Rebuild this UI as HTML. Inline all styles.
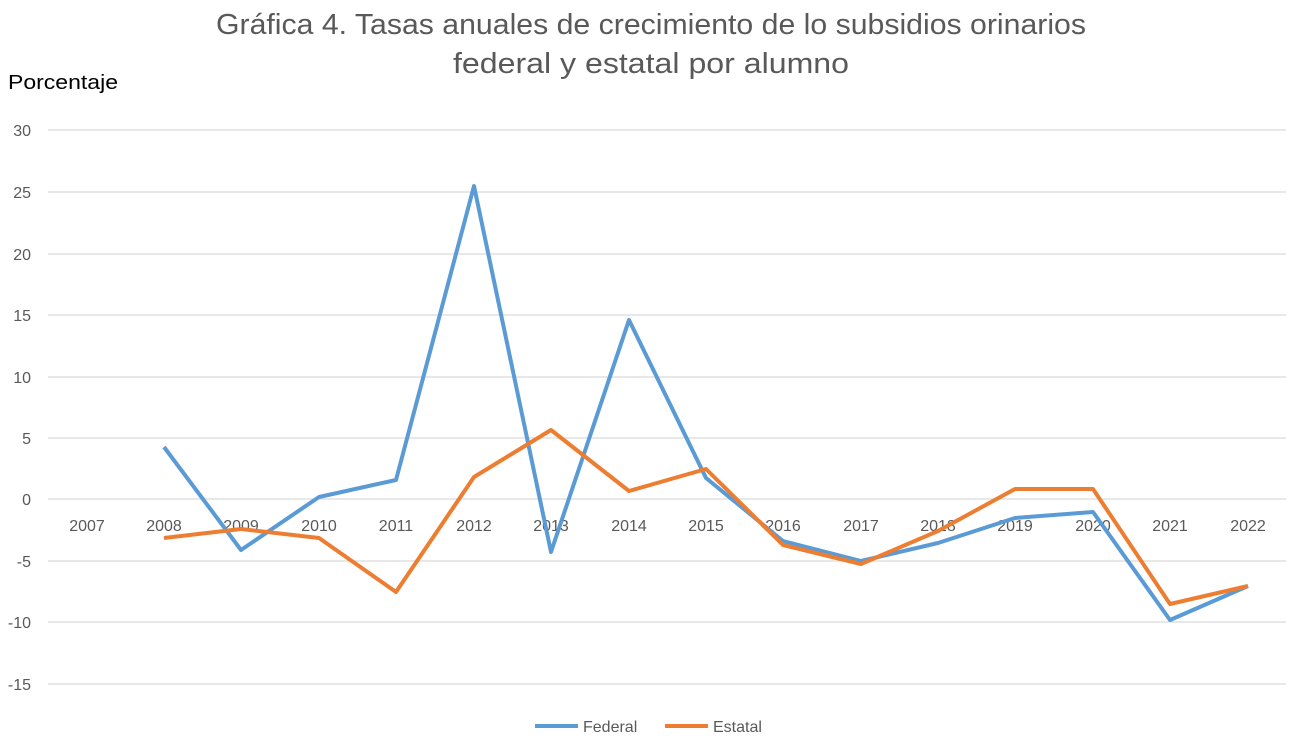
<!DOCTYPE html>
<html><head><meta charset="utf-8"><style>body{margin:0;background:#fff}</style></head>
<body>
<svg width="1302" height="742" xmlns="http://www.w3.org/2000/svg" font-family="Liberation Sans, sans-serif">
<rect width="1302" height="742" fill="#fff"/>
<text x="651" y="34" text-anchor="middle" font-size="29" fill="#595959" textLength="870" lengthAdjust="spacingAndGlyphs">Gráfica 4. Tasas anuales de crecimiento de lo subsidios orinarios</text>
<text x="651" y="73" text-anchor="middle" font-size="29" fill="#595959" textLength="396" lengthAdjust="spacingAndGlyphs">federal y estatal  por alumno</text>
<text x="8" y="89" font-size="20" fill="#000" textLength="110" lengthAdjust="spacingAndGlyphs">Porcentaje</text>
<g stroke="#d9d9d9" stroke-width="1.3">
<line x1="48" x2="1286" y1="130" y2="130"/><line x1="48" x2="1286" y1="192" y2="192"/>
<line x1="48" x2="1286" y1="254" y2="254"/><line x1="48" x2="1286" y1="315" y2="315"/>
<line x1="48" x2="1286" y1="377" y2="377"/><line x1="48" x2="1286" y1="438" y2="438"/>
<line x1="48" x2="1286" y1="499" y2="499"/><line x1="48" x2="1286" y1="561" y2="561"/>
<line x1="48" x2="1286" y1="622" y2="622"/><line x1="48" x2="1286" y1="684" y2="684"/>
</g>
<g font-size="16" fill="#595959" text-anchor="end">
<text x="31" y="136">30</text><text x="31" y="198">25</text><text x="31" y="260">20</text>
<text x="31" y="321">15</text><text x="31" y="383">10</text><text x="31" y="444">5</text>
<text x="31" y="505">0</text><text x="31" y="567">-5</text><text x="31" y="628">-10</text><text x="31" y="690">-15</text>
</g>
<g font-size="16" fill="#595959" text-anchor="middle">
<text x="87" y="531">2007</text><text x="164" y="531">2008</text><text x="241" y="531">2009</text>
<text x="319" y="531">2010</text><text x="396" y="531">2011</text><text x="474" y="531">2012</text>
<text x="551" y="531">2013</text><text x="629" y="531">2014</text><text x="706" y="531">2015</text>
<text x="783" y="531">2016</text><text x="861" y="531">2017</text><text x="938" y="531">2018</text>
<text x="1015" y="531">2019</text><text x="1093" y="531">2020</text><text x="1170" y="531">2021</text>
<text x="1248" y="531">2022</text>
</g>
<polyline fill="none" stroke="#5b9bd5" stroke-width="4" stroke-linejoin="round" points="164,447 241,550 319,497 396,480 474,186 551,552 629,320 706,478 783,541 861,561 938,543 1015,518 1093,512 1170,620 1248,586"/>
<polyline fill="none" stroke="#ed7d31" stroke-width="4" stroke-linejoin="round" points="164,538 241,529 319,538 396,592 474,477 551,430 629,491 706,469 783,545 861,564 938,531 1015,489 1093,489 1170,604 1248,586"/>
<line x1="535" x2="578" y1="726" y2="726" stroke="#5b9bd5" stroke-width="4"/>
<text x="583" y="732" font-size="16" fill="#595959">Federal</text>
<line x1="665" x2="708" y1="726" y2="726" stroke="#ed7d31" stroke-width="4"/>
<text x="713" y="732" font-size="16" fill="#595959">Estatal</text>
</svg>
</body></html>
